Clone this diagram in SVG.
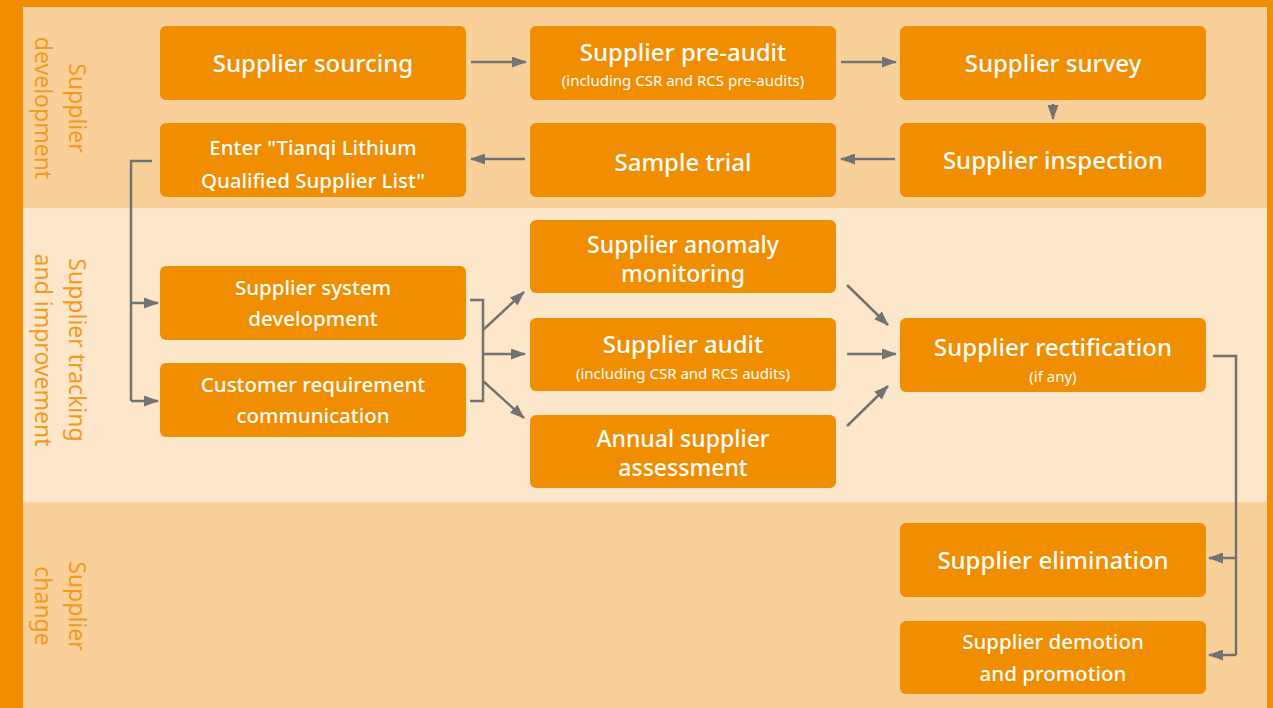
<svg xmlns="http://www.w3.org/2000/svg" width="1273" height="708" viewBox="0 0 1273 708">
<defs>
<marker id="ah" viewBox="0 0 15 11" refX="14" refY="5.5" markerWidth="6" markerHeight="4.4" orient="auto" markerUnits="strokeWidth">
<path d="M0,0 L15,5.5 L0,11 Z" fill="#737373"/>
</marker>
<style>
.node rect{fill:#f08d00;}
.t{font-family:"Noto Sans","Open Sans",sans-serif;fill:#ffffff;text-anchor:middle;dominant-baseline:central;}
.big{font-size:24px;font-weight:500;}
.big2{font-size:23px;font-weight:500;}
.mid{font-size:20.5px;font-weight:500;}
.sm{font-size:15px;}
.lab{font-family:"Noto Sans","Open Sans",sans-serif;fill:#f39a1a;font-size:23px;text-anchor:middle;dominant-baseline:central;}
.c{fill:none;stroke:#737373;stroke-width:2.5;}
.ca{fill:none;stroke:#737373;stroke-width:2.5;marker-end:url(#ah);}
</style>
</defs>
<rect x="0" y="0" width="1273" height="708" fill="#f08d00"/>
<rect x="23" y="7" width="1244" height="201" fill="#f9d09a"/>
<rect x="23" y="208" width="1244" height="294" fill="#fce7cb"/>
<rect x="23" y="502" width="1244" height="206" fill="#f9d09a"/>

<g id="labels">
<g transform="translate(61,108) rotate(90)"><text class="lab" x="0" y="-17">Supplier</text><text class="lab" x="0" y="17">development</text></g>
<g transform="translate(61,350) rotate(90)"><text class="lab" x="0" y="-17">Supplier tracking</text><text class="lab" x="0" y="17">and improvement</text></g>
<g transform="translate(61,606) rotate(90)"><text class="lab" x="0" y="-17">Supplier</text><text class="lab" x="0" y="17">change</text></g>
</g>

<g id="n-sourcing" class="node"><rect x="160" y="26" width="306" height="74" rx="6"/><text class="t big" x="313" y="62">Supplier sourcing</text></g>
<g id="n-preaudit" class="node"><rect x="530" y="26" width="306" height="74" rx="6"/><text class="t big" x="683" y="51">Supplier pre-audit</text><text class="t sm" x="683" y="80">(including CSR and RCS pre-audits)</text></g>
<g id="n-survey" class="node"><rect x="900" y="26" width="306" height="74" rx="6"/><text class="t big" x="1053" y="62">Supplier survey</text></g>
<g id="n-enter" class="node"><rect x="160" y="123" width="306" height="74" rx="6"/><text class="t mid" x="313" y="147">Enter "Tianqi Lithium</text><text class="t mid" x="313" y="180">Qualified Supplier List"</text></g>
<g id="n-sample" class="node"><rect x="530" y="123" width="306" height="74" rx="6"/><text class="t big" x="683" y="161">Sample trial</text></g>
<g id="n-inspection" class="node"><rect x="900" y="123" width="306" height="74" rx="6"/><text class="t big" x="1053" y="159">Supplier inspection</text></g>
<g id="n-system" class="node"><rect x="160" y="266" width="306" height="74" rx="6"/><text class="t mid" x="313" y="287">Supplier system</text><text class="t mid" x="313" y="318">development</text></g>
<g id="n-customer" class="node"><rect x="160" y="363" width="306" height="74" rx="6"/><text class="t mid" x="313" y="384">Customer requirement</text><text class="t mid" x="313" y="415">communication</text></g>
<g id="n-anomaly" class="node"><rect x="530" y="220" width="306" height="73" rx="6"/><text class="t big2" x="683" y="244">Supplier anomaly</text><text class="t big2" x="683" y="273">monitoring</text></g>
<g id="n-audit" class="node"><rect x="530" y="318" width="306" height="73" rx="6"/><text class="t big" x="683" y="343">Supplier audit</text><text class="t sm" x="683" y="373">(including CSR and RCS audits)</text></g>
<g id="n-annual" class="node"><rect x="530" y="415" width="306" height="73" rx="6"/><text class="t big2" x="683" y="438">Annual supplier</text><text class="t big2" x="683" y="467">assessment</text></g>
<g id="n-rect" class="node"><rect x="900" y="318" width="306" height="74" rx="6"/><text class="t big" x="1053" y="346">Supplier rectification</text><text class="t sm" x="1053" y="376">(if any)</text></g>
<g id="n-elim" class="node"><rect x="900" y="523" width="306" height="74" rx="6"/><text class="t big" x="1053" y="559">Supplier elimination</text></g>
<g id="n-demotion" class="node"><rect x="900" y="621" width="306" height="73" rx="6"/><text class="t mid" x="1053" y="641">Supplier demotion</text><text class="t mid" x="1053" y="673">and promotion</text></g>

<g id="connectors">
<path class="ca" d="M471,62 H526"/>
<path class="ca" d="M841,62 H896"/>
<path class="ca" d="M1053,104 V119"/>
<path class="ca" d="M895,159 H841"/>
<path class="ca" d="M525,159 H471"/>
<path class="c" d="M152,161 H131 V401"/>
<path class="ca" d="M131,303 H158"/>
<path class="ca" d="M131,401 H158"/>
<path class="c" d="M470,300 H483 V401 H470"/>
<path class="ca" d="M483,330 L524,292"/>
<path class="ca" d="M483,354 H525"/>
<path class="ca" d="M483,381 L524,418"/>
<path class="ca" d="M847,285 L888,325"/>
<path class="ca" d="M847,354 H896"/>
<path class="ca" d="M847,426 L888,386"/>
<path class="c" d="M1213,356 H1236 V655"/>
<path class="ca" d="M1236,558 H1209"/>
<path class="ca" d="M1236,655 H1209"/>
</g>
</svg>
